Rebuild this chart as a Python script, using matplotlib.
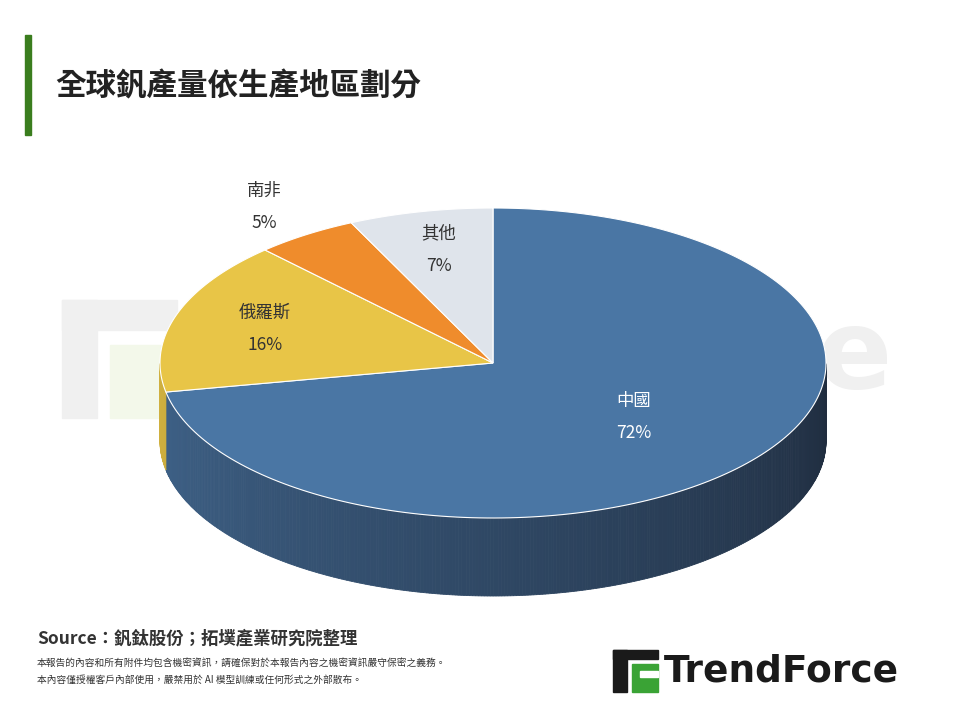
import numpy as np
import matplotlib
matplotlib.use("Agg")
import matplotlib.pyplot as plt
from matplotlib.patches import Polygon, Rectangle

plt.rcParams['font.family'] = ['Noto Sans CJK TC', 'DejaVu Sans']

categories = ["中國", "俄羅斯", "南非", "其他"]
shares = [72, 16, 5, 7]
colors = ["#4a76a4", "#e8c547", "#ef8c2c", "#dfe4eb"]
side_dark = ["#1f2c3e", "#8a7428", "#8c5218", "#8a9098"]
label_colors = ["white", "#333333", "#333333", "#333333"]
label_r = [0.55, 0.72, 1.22, 0.75]

fig = plt.figure(figsize=(9.6, 7.2), dpi=100)
ax = fig.add_axes([0, 0, 1, 1])
ax.set_xlim(0, 960); ax.set_ylim(720, 0); ax.axis('off')

# watermark
ax.add_patch(Rectangle((62, 300), 115, 30, color='#f0f0f0', zorder=0))
ax.add_patch(Rectangle((62, 300), 35, 118, color='#f0f0f0', zorder=0))
ax.add_patch(Rectangle((110, 345), 67, 73, color='#f3f8ea', zorder=0))
ax.text(545, 358, "TrendForce", fontsize=80, fontweight='bold', color='#f0f0f0',
        ha='center', va='center', family='DejaVu Sans', zorder=0)

cx, cy, rx, ry, depth = 493, 363, 333, 155, 78
def pt(a, dy=0):
    return cx + rx*np.cos(np.radians(a)), cy - ry*np.sin(np.radians(a)) + dy

def mix(c1, c2, t):
    a = np.array(matplotlib.colors.to_rgb(c1)); b = np.array(matplotlib.colors.to_rgb(c2))
    return a*(1-t) + b*t

starts = []
a = 90.0
for s in shares:
    starts.append((a, a - s*3.6)); a -= s*3.6

# sides (front half)
for i, (a0, a1) in enumerate(starts):
    lo, hi = min(a0, a1), max(a0, a1)
    angs = np.linspace(lo, hi, max(2, int((hi-lo)*2)))
    for j in range(len(angs)-1):
        aa, bb = angs[j], angs[j+1]
        m = (aa+bb)/2 % 360
        if not (180 <= m <= 360):
            continue
        t = (m-180)/180
        col = mix(colors[i], side_dark[i], 0.25 + 0.75*t)
        p = [pt(aa), pt(bb), pt(bb, depth), pt(aa, depth)]
        ax.add_patch(Polygon(p, closed=True, fc=col, ec=col, lw=0.6, zorder=2))

# top
for i, (a0, a1) in enumerate(starts):
    angs = np.linspace(a0, a1, 200)
    p = [(cx, cy)] + [pt(x) for x in angs]
    ax.add_patch(Polygon(p, closed=True, fc=colors[i], ec='white', lw=0.8, zorder=3))
    mid = np.radians((a0+a1)/2); r = label_r[i]
    lx, ly = cx + rx*r*np.cos(mid), cy - ry*r*np.sin(mid)
    ax.text(lx, ly-16, categories[i], fontsize=12.5, color=label_colors[i], ha='center', va='center', zorder=4)
    ax.text(lx, ly+16, f"{shares[i]}%", fontsize=12.5, color=label_colors[i], ha='center', va='center', zorder=4)

# title
ax.add_patch(Rectangle((25, 35), 6, 100, color='#3a7d1e'))
ax.text(55, 86, "全球釩產量依生產地區劃分", fontsize=22, fontweight='bold', color='#222222', va='center')

ax.text(37, 638, "Source：釩鈦股份；拓墣產業研究院整理", fontsize=12.5, fontweight='bold', color='#333333', va='center')
ax.text(37, 663, "本報告的內容和所有附件均包含機密資訊，請確保對於本報告內容之機密資訊嚴守保密之義務。", fontsize=7, color='#333333', va='center')
ax.text(37, 680, "本內容僅授權客戶內部使用，嚴禁用於 AI 模型訓練或任何形式之外部散布。", fontsize=7, color='#333333', va='center')

# logo
ax.add_patch(Rectangle((613, 650), 45, 9, color='#1a1a1a'))
ax.add_patch(Rectangle((613, 650), 14, 42, color='#1a1a1a'))
ax.add_patch(Rectangle((632, 664), 26, 28, color='#3aa335'))
ax.add_patch(Rectangle((640, 671), 18, 6, color='white'))
ax.text(664, 671, "TrendForce", fontsize=27, fontweight='bold', color='#1a1a1a', va='center', family='DejaVu Sans')

fig.savefig("out.png", dpi=100, facecolor='white')
